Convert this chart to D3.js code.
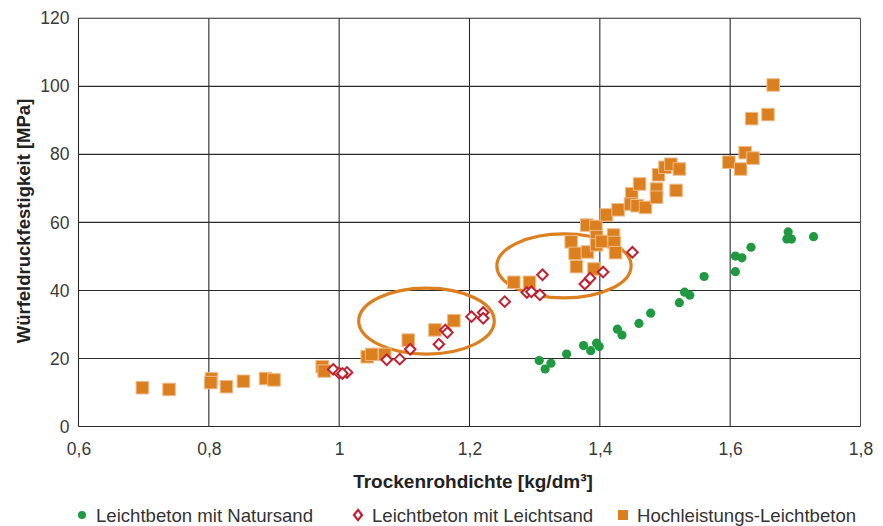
<!DOCTYPE html>
<html>
<head>
<meta charset="utf-8">
<script src="https://cdn.jsdelivr.net/npm/d3@7"></script>
<style>
  body { margin: 0; background: #fff; }
  svg text { font-family: "Liberation Sans", Arial, sans-serif; }
</style>
</head>
<body>
<svg id="chart" width="883" height="526"></svg>
<script>
// Leichtbeton mit Natursand
const naturX = [1.307,1.316,1.325,1.349,1.375,1.386,1.395,1.399,1.427,1.434,1.460,1.478,1.522,1.530,1.538,1.560,1.608,1.608,1.618,1.632,1.689,1.687,1.694,1.728];
const naturY = [19.4,16.9,18.6,21.3,23.8,22.3,24.5,23.5,28.6,26.9,30.3,33.3,36.4,39.5,38.6,44.1,45.5,50.1,49.6,52.7,57.2,55.1,55.1,55.8];

// Leichtbeton mit Leichtsand
const leichtX = [0.991,1.000,1.012,1.005,1.073,1.093,1.109,1.153,1.163,1.166,1.203,1.221,1.221,1.254,1.288,1.295,1.308,1.312,1.377,1.385,1.405,1.450];
const leichtY = [16.8,15.7,15.9,15.6,19.6,19.8,22.7,24.2,28.4,27.6,32.3,33.5,31.8,36.7,39.4,39.6,38.7,44.6,41.9,43.6,45.4,51.2];

// Hochleistungs-Leichtbeton
const hlX = [0.698,0.739,0.804,0.803,0.827,0.853,0.887,0.900,0.974,0.977,1.043,1.050,1.070,1.106,1.147,1.176,1.268,1.292,1.364,1.356,1.362,1.380,1.394,1.381,1.395,1.395,1.403,1.391,1.421,1.422,1.424,1.410,1.428,1.449,1.461,1.447,1.457,1.470,1.487,1.487,1.517,1.490,1.500,1.509,1.522,1.598,1.616,1.623,1.635,1.633,1.658,1.666];
const hlY = [11.4,10.9,14.0,12.9,11.7,13.3,14.1,13.7,17.6,16.3,20.5,21.2,21.2,25.4,28.4,31.1,42.4,42.4,47.0,54.3,50.9,59.2,58.8,51.3,55.8,53.4,54.4,46.3,56.3,54.1,51.1,62.2,63.7,68.4,71.3,65.4,64.9,64.4,69.8,67.4,69.4,74.0,76.2,77.1,75.7,77.7,75.7,80.5,78.9,90.5,91.7,100.4];

// ellipses: centre x, centre y, half width (kg/dm3), half height (MPa)
const ellCx = [1.134, 1.345];
const ellCy = [31.0, 47.2];
const ellRx = [0.104, 0.103];
const ellRy = [9.7, 9.4];

const xTicks = [0.6, 0.8, 1.0, 1.2, 1.4, 1.6, 1.8];
const yTicks = [0, 20, 40, 60, 80, 100, 120];
const legendLabels = ["Leichtbeton mit Natursand", "Leichtbeton mit Leichtsand", "Hochleistungs-Leichtbeton"];

const margin = {top: 18.3, left: 78.5};
const width = 782, height = 408.2;
const orange = "#db7f1f", red = "#c21f30", green = "#1f9a40";

const svg = d3.select("#chart");
const g = svg.append("g").attr("transform", "translate(" + margin.left + "," + margin.top + ")");

const x = d3.scaleLinear().domain([0.6, 1.8]).range([0, width]);
const y = d3.scaleLinear().domain([0, 120]).range([height, 0]);

const fmt = d => d === 1 ? "1" : d3.format(".1f")(d).replace(".", ",");

// grid
g.append("g").selectAll("line").data(yTicks).enter().append("line")
  .attr("x1", 0).attr("x2", width)
  .attr("y1", d => y(d)).attr("y2", d => y(d))
  .attr("stroke", "#2a2a2a").attr("stroke-width", 1.1);
g.append("g").selectAll("line").data(xTicks).enter().append("line")
  .attr("y1", 0).attr("y2", height)
  .attr("x1", d => x(d)).attr("x2", d => x(d))
  .attr("stroke", d => d === 1.8 ? "#555" : "#2a2a2a").attr("stroke-width", 1.1);

// axes
const xAxis = g.append("g").attr("transform", "translate(0," + height + ")")
  .call(d3.axisBottom(x).tickValues(xTicks).tickFormat(fmt).tickSize(0).tickPadding(16));
const yAxis = g.append("g")
  .call(d3.axisLeft(y).tickValues(yTicks).tickSize(0).tickPadding(9));
[xAxis, yAxis].forEach(a => {
  a.select(".domain").remove();
  a.selectAll("text").attr("font-size", 17.5).attr("fill", "#3a3a3a")
    .style("font-family", "'Liberation Sans', Arial, sans-serif");
});

// ellipses
g.append("g").selectAll("ellipse").data(ellCx).enter().append("ellipse")
  .attr("cx", (d, i) => x(ellCx[i]))
  .attr("cy", (d, i) => y(ellCy[i]))
  .attr("rx", (d, i) => x(0.6 + ellRx[i]) - x(0.6))
  .attr("ry", (d, i) => y(0) - y(ellRy[i]))
  .attr("fill", "none").attr("stroke", orange).attr("stroke-width", 3.2);

// Hochleistungs squares
const sq = 12.5;
g.append("g").selectAll("rect").data(hlX).enter().append("rect")
  .attr("x", (d, i) => x(d) - sq / 2)
  .attr("y", (d, i) => y(hlY[i]) - sq / 2)
  .attr("width", sq).attr("height", sq)
  .attr("fill", orange).attr("stroke", "#eebb88").attr("stroke-width", 1);

// Leichtsand diamonds
const dm = 5.3;
g.append("g").selectAll("path").data(leichtX).enter().append("path")
  .attr("d", (d, i) => {
    const cx = x(d), cy = y(leichtY[i]);
    return "M" + cx + "," + (cy - dm) + "L" + (cx + dm) + "," + cy + "L" + cx + "," + (cy + dm) + "L" + (cx - dm) + "," + cy + "Z";
  })
  .attr("fill", "#fff").attr("stroke", red).attr("stroke-width", 2);

// Natursand circles
g.append("g").selectAll("circle").data(naturX).enter().append("circle")
  .attr("cx", d => x(d)).attr("cy", (d, i) => y(naturY[i])).attr("r", 4.6)
  .attr("fill", green);

// axis titles
svg.append("text").attr("x", 473).attr("y", 488)
  .attr("text-anchor", "middle").attr("font-size", 19).attr("font-weight", "bold").attr("fill", "#222")
  .text("Trockenrohdichte [kg/dm³]");
svg.append("text").attr("transform", "translate(30,221) rotate(-90)")
  .attr("text-anchor", "middle").attr("font-size", 18.5).attr("font-weight", "bold").attr("fill", "#222")
  .text("Würfeldruckfestigkeit [MPa]");

// legend
const legX = [82, 358, 623];
const leg = svg.append("g");
leg.append("circle").attr("cx", legX[0]).attr("cy", 515).attr("r", 4).attr("fill", green);
leg.append("path").attr("d", d3.symbol().type(d3.symbolDiamond2).size(42)())
  .attr("transform", "translate(" + legX[1] + ",515) scale(1,1.25)")
  .attr("fill", "#fff").attr("stroke", red).attr("stroke-width", 2);
leg.append("rect").attr("x", legX[2] - 5).attr("y", 510).attr("width", 10).attr("height", 10).attr("fill", orange);
leg.selectAll("text").data(legendLabels).enter().append("text")
  .attr("x", (d, i) => legX[i] + 14).attr("y", 521.5)
  .attr("font-size", 18.6).attr("fill", "#333")
  .text(d => d);
</script>
</body>
</html>
